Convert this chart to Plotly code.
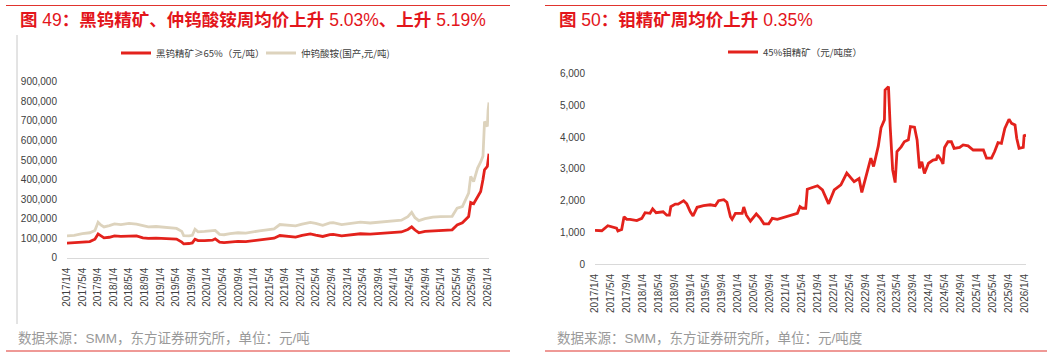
import pandas as pd
import plotly.graph_objects as go

# ---------------- data ----------------
tick_labels = ["2017/1/4", "2017/5/4", "2017/9/4", "2018/1/4", "2018/5/4", "2018/9/4",
               "2019/1/4", "2019/5/4", "2019/9/4", "2020/1/4", "2020/5/4", "2020/9/4",
               "2021/1/4", "2021/5/4", "2021/9/4", "2022/1/4", "2022/5/4", "2022/9/4",
               "2023/1/4", "2023/5/4", "2023/9/4", "2024/1/4", "2024/5/4", "2024/9/4",
               "2025/1/4", "2025/5/4", "2025/9/4", "2026/1/4"]

w_dates = ["2017-01-04", "2017-03-01", "2017-05-04", "2017-07-01", "2017-08-10", "2017-09-04",
           "2017-09-25", "2017-10-20", "2017-12-01", "2018-01-10", "2018-03-01", "2018-05-04",
           "2018-07-01", "2018-08-20", "2018-10-01", "2018-12-01", "2019-01-20", "2019-03-01",
           "2019-05-10", "2019-06-20", "2019-07-05", "2019-08-15", "2019-09-10", "2019-10-01",
           "2019-10-25", "2019-12-15", "2020-02-15", "2020-03-07", "2020-04-10", "2020-05-15",
           "2020-07-01", "2020-09-01", "2020-11-01", "2020-12-20", "2021-02-15", "2021-04-15",
           "2021-06-10", "2021-07-25", "2021-09-15", "2021-11-25", "2022-01-15", "2022-03-20",
           "2022-05-01", "2022-06-25", "2022-08-20", "2022-09-15", "2022-11-20", "2023-01-20",
           "2023-04-15", "2023-07-01", "2023-10-01", "2023-12-29", "2024-03-01", "2024-04-20",
           "2024-05-20", "2024-06-15", "2024-07-15", "2024-09-01", "2024-11-01", "2025-01-01",
           "2025-03-01", "2025-04-01", "2025-05-10", "2025-06-20", "2025-08-08", "2025-08-24",
           "2025-09-16", "2025-10-17", "2025-11-10", "2025-11-28", "2025-12-10", "2026-01-01",
           "2026-01-07", "2026-01-14"]

w_ore = [75000, 76000, 80000, 83000, 95000, 122000,
         113000, 102000, 105000, 112000, 110000, 113000,
         112000, 102000, 99000, 101000, 100000, 97000,
         96000, 80000, 71000, 73000, 76000, 95000,
         88000, 88000, 90000, 97000, 80000, 78000,
         82000, 84000, 83000, 87000, 90000, 96000,
         100000, 114000, 112000, 106000, 115000, 122000,
         116000, 109000, 118000, 120000, 112000, 118000,
         123000, 121000, 124000, 128000, 132000, 145000,
         158000, 142000, 128000, 135000, 138000, 140000,
         141000, 143000, 168000, 179000, 211000, 283000,
         276000, 313000, 339000, 400000, 450000, 467000,
         506000, 532000]

w_apt = [112000, 115000, 124000, 128000, 140000, 182000,
         168000, 158000, 165000, 173000, 170000, 176000,
         172000, 163000, 158000, 160000, 156000, 152000,
         150000, 135000, 113000, 112000, 115000, 146000,
         133000, 135000, 137000, 140000, 120000, 118000,
         124000, 128000, 126000, 133000, 138000, 143000,
         148000, 170000, 168000, 163000, 172000, 181000,
         176000, 166000, 178000, 180000, 170000, 176000,
         182000, 178000, 184000, 186000, 192000, 210000,
         232000, 205000, 190000, 200000, 208000, 210000,
         210000, 212000, 254000, 262000, 331000, 416000,
         390000, 459000, 490000, 520000, 697000, 671000,
         755000, 794000]

mo_dates = ["2017-01-04", "2017-02-25", "2017-04-12", "2017-05-10", "2017-06-18", "2017-06-28",
            "2017-07-27", "2017-08-14", "2017-09-04", "2017-09-29", "2017-11-20", "2017-12-28",
            "2018-01-22", "2018-03-01", "2018-03-21", "2018-04-16", "2018-06-09", "2018-07-07",
            "2018-07-27", "2018-08-07", "2018-09-10", "2018-10-02", "2018-11-13", "2018-12-07",
            "2019-01-03", "2019-01-24", "2019-02-24", "2019-04-14", "2019-06-04", "2019-07-13",
            "2019-08-07", "2019-09-16", "2019-10-10", "2019-11-06", "2019-11-19", "2019-12-14",
            "2020-02-04", "2020-02-16", "2020-03-07", "2020-04-07", "2020-05-22", "2020-06-22",
            "2020-07-19", "2020-08-25", "2020-09-21", "2020-10-30", "2020-12-19", "2021-02-09",
            "2021-04-01", "2021-04-21", "2021-05-09", "2021-06-04", "2021-06-16", "2021-09-02",
            "2021-10-10", "2021-11-26", "2022-01-08", "2022-02-28", "2022-04-14", "2022-06-09",
            "2022-07-17", "2022-08-07", "2022-09-20", "2022-10-15", "2022-11-05", "2022-12-11",
            "2023-01-01", "2023-01-27", "2023-02-01", "2023-02-27", "2023-03-12", "2023-03-31",
            "2023-04-19", "2023-05-03", "2023-06-04", "2023-06-28", "2023-07-29", "2023-08-14",
            "2023-09-14", "2023-10-04", "2023-10-22", "2023-11-09", "2023-11-29", "2023-12-30",
            "2024-02-03", "2024-02-28", "2024-03-10", "2024-04-06", "2024-04-19", "2024-05-01",
            "2024-05-27", "2024-06-22", "2024-07-13", "2024-08-25", "2024-09-20", "2024-10-28",
            "2024-12-06", "2025-02-22", "2025-03-18", "2025-04-25", "2025-05-19", "2025-06-14",
            "2025-07-10", "2025-08-05", "2025-09-06", "2025-09-26", "2025-10-22", "2025-11-04",
            "2025-11-22", "2025-12-24", "2025-12-31", "2026-01-07", "2026-01-14"]

mo_price = [1060, 1050, 1210, 1180, 1130, 1040,
            1090, 1495, 1410, 1410, 1370, 1440,
            1620, 1600, 1740, 1620, 1650, 1540,
            1540, 1810, 1890, 1890, 2000, 1900,
            1650, 1515, 1790, 1840, 1870, 1840,
            2000, 2030, 1950, 1495, 1410, 1600,
            1600, 1800, 1540, 1350, 1580, 1440,
            1270, 1270, 1440, 1410, 1470, 1530,
            1600, 1810, 1760, 1760, 2360, 2470,
            2340, 1900, 2340, 2500, 2870, 2600,
            2700, 2260, 2910, 3340, 3080, 3720,
            4300, 4550, 5490, 5600, 4340, 2970,
            2570, 3550, 3700, 3860, 3920, 4340,
            4320, 3920, 3020, 3230, 2860, 3180,
            3280, 3300, 3440, 3280, 3160, 3680,
            3860, 3860, 3650, 3680, 3760, 3730,
            3600, 3600, 3340, 3340, 3550, 3830,
            3810, 4280, 4570, 4440, 4390, 3970,
            3650, 3680, 4080, 4050, 4064]

y1_ticks = [0, 100000, 200000, 300000, 400000, 500000, 600000, 700000, 800000, 900000]
y2_ticks = [0, 1000, 2000, 3000, 4000, 5000, 6000]

name_ore = "黑钨精矿≥65%（元/吨）"
name_apt = "仲钨酸铵(国产,元/吨)"
name_mo = "45%钼精矿（元/吨度）"
title1 = "<b>图</b> 49<b>：黑钨精矿、仲钨酸铵周均价上升</b> 5.03%<b>、上升</b> 5.19%"
title2 = "<b>图</b> 50<b>：钼精矿周均价上升</b> 0.35%"
foot1 = "数据来源：SMM，东方证券研究所，单位：元/吨"
foot2 = "数据来源：SMM，东方证券研究所，单位：元/吨度"

# ---------------- style ----------------
W, H = 1061, 358
RED = "#e3221c"
BEIGE = "#ddd3bd"
TITLE_RED = "#e3151b"
RULE_RED = "#e0342e"
FONT = "Liberation Sans, Arial, Noto Sans CJK SC"

tickvals = pd.to_datetime(tick_labels, format="%Y/%m/%d")

def px_x(p):
    return p / W

def px_y(p):
    return (H - p) / H

fig = go.Figure()
fig.add_trace(go.Scatter(x=w_dates, y=w_ore, name=name_ore, mode="lines",
                         line=dict(color=RED, width=2.8), xaxis="x", yaxis="y", legend="legend"))
fig.add_trace(go.Scatter(x=w_dates, y=w_apt, name=name_apt, mode="lines",
                         line=dict(color=BEIGE, width=2.8), xaxis="x", yaxis="y", legend="legend"))
fig.add_trace(go.Scatter(x=mo_dates, y=mo_price, name=name_mo, mode="lines",
                         line=dict(color=RED, width=2.8), xaxis="x2", yaxis="y2", legend="legend2"))

xcommon = dict(type="date", range=[w_dates[0], w_dates[-1]], tickmode="array",
               tickvals=tickvals, ticktext=tick_labels, tickangle=-90,
               showgrid=False, zeroline=False, showline=True, linecolor="#d9d9d9",
               linewidth=1, ticks="", ticklabelstandoff=5, automargin=False,
               tickfont=dict(family=FONT, size=10, color="#404040"), fixedrange=True)
ycommon = dict(showgrid=False, zeroline=False, showline=False, ticks="",
               tickformat=",d", ticklabelstandoff=9, automargin=False,
               tickfont=dict(family=FONT, size=10, color="#404040"), fixedrange=True)

fig.update_layout(
    width=W, height=H, margin=dict(l=0, r=0, t=0, b=0, autoexpand=False),
    paper_bgcolor="white", plot_bgcolor="white",
    xaxis=dict(domain=[px_x(67), px_x(489)], anchor="y", **xcommon),
    yaxis=dict(domain=[px_y(257.8), px_y(62.2)], range=[0, 1000000], tickvals=y1_ticks,
               anchor="x", **ycommon),
    xaxis2=dict(domain=[px_x(595), px_x(1026)], anchor="y2",
                **{**xcommon, "range": [mo_dates[0], mo_dates[-1]]}),
    yaxis2=dict(domain=[px_y(264), px_y(70.8)], range=[0, 6100], tickvals=y2_ticks,
                anchor="x2", **ycommon),
    legend=dict(orientation="h", x=px_x(116), xanchor="left", y=px_y(53), yanchor="middle",
                entrywidth=100, entrywidthmode="pixels",
                font=dict(family="Noto Sans CJK SC", size=9.5, color="#404040"),
                bgcolor="rgba(0,0,0,0)", borderwidth=0),
    legend2=dict(orientation="h", x=px_x(723), xanchor="left", y=px_y(52), yanchor="middle",
                 font=dict(family="Noto Sans CJK SC", size=9.5, color="#404040"),
                 bgcolor="rgba(0,0,0,0)", borderwidth=0),
    showlegend=True,
)

# titles & footers
for txt, x0 in [(title1, 18), (title2, 557)]:
    fig.add_annotation(text=txt, x=px_x(x0), y=px_y(20), xref="paper", yref="paper",
                       xanchor="left", yanchor="middle", align="left", showarrow=False,
                       font=dict(family=FONT, size=17.5, color=TITLE_RED))
for txt, x0 in [(foot1, 16), (foot2, 555)]:
    fig.add_annotation(text=txt, x=px_x(x0), y=px_y(338), xref="paper", yref="paper",
                       xanchor="left", yanchor="middle", align="left", showarrow=False,
                       font=dict(family=FONT, size=13.5, color="#999999"))

# frame rules
for x0, x1 in [(6, 510), (545, 1047)]:
    for yy in (5.5, 351):
        fig.add_shape(type="line", xref="paper", yref="paper",
                      x0=px_x(x0), x1=px_x(x1), y0=px_y(yy), y1=px_y(yy),
                      line=dict(color=RULE_RED, width=1.2))
fig.add_shape(type="line", xref="paper", yref="paper",
              x0=px_x(17), x1=px_x(17), y0=px_y(35), y1=px_y(324),
              line=dict(color="#c8c8c8", width=1))

fig.write_html("out.html", config={"displayModeBar": False},
               post_script="document.body.style.margin='0';document.body.style.overflow='hidden';")
